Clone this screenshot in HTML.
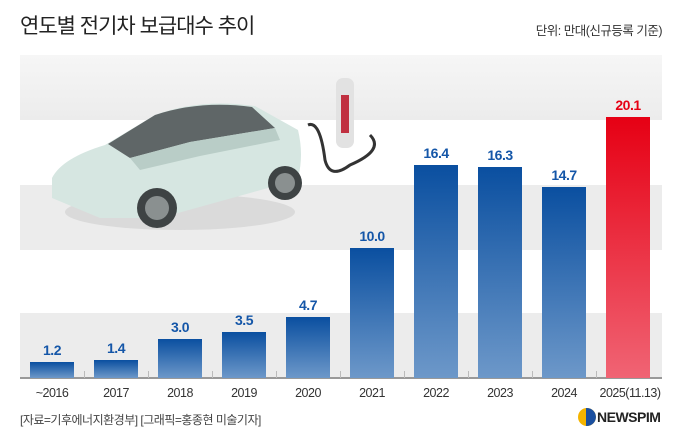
<!DOCTYPE html>
<html><head><meta charset="utf-8"><style>
body{margin:0;width:680px;height:442px;background:#fff;position:relative;overflow:hidden;font-family:"Liberation Sans","Noto Sans CJK KR",sans-serif}
.a{position:absolute}
.band{position:absolute;left:20px;width:642px;height:65px;background:#ececec}
.bar{position:absolute;width:44px;background:linear-gradient(#0a4fa0,#6d98c9)}
.v{position:absolute;width:60px;text-align:center;font-size:14px;font-weight:bold;color:#1456a8;letter-spacing:-0.5px}
.y{position:absolute;width:70px;text-align:center;font-size:12.5px;color:#333;top:386px;letter-spacing:-0.5px}
.t{position:absolute;top:371px;width:1px;height:7px;background:#bbb}
</style></head><body>
<div class="a" style="left:20px;top:10px;font-size:21px;color:#222;letter-spacing:-1px">연도별 전기차 보급대수 추이</div>
<div class="a" style="right:18px;top:20px;font-size:12.5px;color:#333;letter-spacing:-0.5px">단위: 만대(신규등록 기준)</div>
<div class="band" style="top:55px;background:linear-gradient(#f6f6f6,#ececec)"></div>
<div class="band" style="top:185px"></div>
<div class="band" style="top:313px"></div>
<svg class="a" style="left:40px;top:70px" width="360" height="170">
<ellipse cx="140" cy="142" rx="115" ry="18" fill="#cfcfcf" opacity=".6"/>
<path d="M12 128 L12 108 Q22 88 65 75 L115 45 Q160 28 215 36 L258 60 Q264 85 258 108 L228 118 L120 148 L60 148 Z" fill="#d6e6e1"/>
<path d="M68 74 L115 45 Q160 30 212 37 L235 58 L150 72 L90 88 Z" fill="#5f6667"/>
<path d="M90 88 L150 72 L235 58 L240 70 L160 86 L100 100 Z" fill="#b9cdc7"/>
<circle cx="117" cy="138" r="20" fill="#3e4344"/><circle cx="117" cy="138" r="12" fill="#8a9090"/>
<circle cx="245" cy="113" r="17" fill="#3e4344"/><circle cx="245" cy="113" r="10" fill="#8a9090"/>
<rect x="296" y="8" width="18" height="70" rx="7" fill="#e2e2e2"/>
<rect x="301" y="25" width="8" height="38" fill="#c03040"/>
<path d="M268 55 Q280 50 285 90 Q290 110 310 95 Q345 80 330 65" stroke="#333" stroke-width="3" fill="none"/>
</svg>
<div class="a" style="left:20px;top:377px;width:642px;height:2px;background:#999"></div>
<div class="t" style="left:84px"></div><div class="t" style="left:148px"></div><div class="t" style="left:212px"></div><div class="t" style="left:276px"></div><div class="t" style="left:340px"></div><div class="t" style="left:404px"></div><div class="t" style="left:468px"></div><div class="t" style="left:532px"></div><div class="t" style="left:596px"></div>
<div class="bar" style="left:30px;top:362px;height:16px"></div>
<div class="bar" style="left:94px;top:360px;height:18px"></div>
<div class="bar" style="left:158px;top:339px;height:39px"></div>
<div class="bar" style="left:222px;top:332px;height:46px"></div>
<div class="bar" style="left:286px;top:317px;height:61px"></div>
<div class="bar" style="left:350px;top:248px;height:130px"></div>
<div class="bar" style="left:414px;top:165px;height:213px"></div>
<div class="bar" style="left:478px;top:167px;height:211px"></div>
<div class="bar" style="left:542px;top:187px;height:191px"></div>
<div class="bar" style="left:606px;top:117px;height:261px;background:linear-gradient(#e60014,#f06474)"></div>
<div class="v" style="left:22px;top:342px">1.2</div>
<div class="v" style="left:86px;top:340px">1.4</div>
<div class="v" style="left:150px;top:319px">3.0</div>
<div class="v" style="left:214px;top:312px">3.5</div>
<div class="v" style="left:278px;top:297px">4.7</div>
<div class="v" style="left:342px;top:228px">10.0</div>
<div class="v" style="left:406px;top:145px">16.4</div>
<div class="v" style="left:470px;top:147px">16.3</div>
<div class="v" style="left:534px;top:167px">14.7</div>
<div class="v" style="left:598px;top:97px;color:#e60014">20.1</div>
<div class="y" style="left:17px">~2016</div><div class="y" style="left:81px">2017</div><div class="y" style="left:145px">2018</div><div class="y" style="left:209px">2019</div><div class="y" style="left:273px">2020</div><div class="y" style="left:337px">2021</div><div class="y" style="left:401px">2022</div><div class="y" style="left:465px">2023</div><div class="y" style="left:529px">2024</div><div class="y" style="left:590px;width:80px">2025(11.13)</div>
<div class="a" style="left:20px;top:411px;font-size:12px;color:#444;letter-spacing:-0.5px">[자료=기후에너지환경부] [그래픽=홍종현 미술기자]</div>
<div class="a" style="left:578px;top:408px;width:18px;height:18px;border-radius:50%;background:#f4b400;overflow:hidden"><div style="position:absolute;left:8px;top:0;width:10px;height:18px;background:#1a4fa0;border-radius:0 9px 9px 0"></div></div>
<div class="a" style="left:597px;top:409px;font-size:14px;font-weight:bold;color:#222;letter-spacing:-0.5px">NEWSPIM</div>
</body></html>
